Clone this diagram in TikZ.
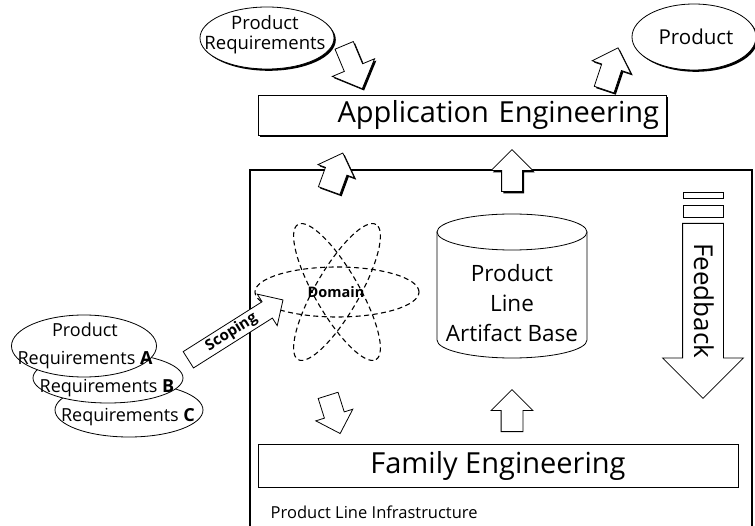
\documentclass[tikz,border=0pt]{standalone}
\usepackage{fontspec}
\setmainfont{Open Sans}
\usetikzlibrary{shapes.geometric,shapes.arrows,shadows}

\begin{document}
\begin{tikzpicture}[x=1pt,y=-1pt,line width=0.8pt,
    box/.style={draw, rectangle, fill=white, inner sep=0pt},
    bubble/.style={draw, ellipse, fill=white, inner sep=0pt},
    orbit/.style={draw, ellipse, line width=1.1pt, dash pattern=on 5pt off 3.5pt,
      minimum width=156pt, minimum height=44pt, inner sep=0pt},
    hollow/.style={draw, single arrow, fill=white, inner xsep=0pt, anchor=tail},
    shade/.style={drop shadow={shadow xshift=1.8pt, shadow yshift=-1.8pt, opacity=1, fill=black}},
  ]
  \useasboundingbox (0,0) rectangle (755,526);

  % infrastructure frame
  \draw[line width=2.6pt] (250,170) rectangle (752,527);
  \node[anchor=west, font=\fontsize{16.5}{18}\selectfont] (infra) at (267,512) {Product Line Infrastructure};

  % engineering boxes
  \node[box, shade, text width=394pt, inner xsep=7pt, minimum height=40pt, align=right,
    font=\fontsize{29}{31}\selectfont] (appeng) at (462,115) {Application Engineering};
  \node[box, minimum width=480pt, minimum height=43pt, font=\fontsize{29}{31}\selectfont]
    (fameng) at (498,465.5) {Family Engineering};

  % top bubbles
  \node[bubble, shade, minimum width=134pt, minimum height=62pt] (reqtop) at (267,38) {};
  \node[align=center, inner sep=0pt, font=\fontsize{18.5}{20}\selectfont] (txttop) at (265,35) {Product\\Requirements};
  \node[bubble, shade, minimum width=124pt, minimum height=66pt] (prod) at (694,37) {};
  \node[font=\fontsize{20.5}{22}\selectfont] (txtprod) at (696,37) {Product};

  % requirement stack
  \node[bubble, minimum width=148pt, minimum height=54pt] (reqC) at (129,410) {};
  \node[font=\fontsize{18}{20}\selectfont] (txtC) at (128,417) {Requirements \textbf{C}};
  \node[bubble, minimum width=150pt, minimum height=50pt] (reqB) at (108,378) {};
  \node[font=\fontsize{18}{20}\selectfont] (txtB) at (107,388) {Requirements \textbf{B}};
  \node[bubble, minimum width=145pt, minimum height=62pt] (reqA) at (84,346) {};
  \node[align=center, inner sep=0pt, font=\fontsize{18}{28}\selectfont] (txtA) at (85,346) {Product\\Requirements \textbf{A}};

  % domain
  \node[orbit, minimum width=164pt, minimum height=50pt] (orbit0) at (337,292) {};
  \node[orbit, rotate=60] (orbit1) at (337,292) {};
  \node[orbit, rotate=-60] (orbit2) at (337,292) {};
  \node[font=\fontsize{14.5}{16}\selectfont\bfseries] (domain) at (336,292) {Domain};

  % artifact base
  \draw[fill=white] (437,232) -- (437,340) arc[start angle=180, end angle=0, x radius=75, y radius=18]
    -- (587,232) -- cycle;
  \draw[fill=white] (512,232) ellipse [x radius=75, y radius=18];
  \node[align=center, font=\fontsize{22.5}{30}\selectfont] (artbase) at (512,303) {Product\\Line\\Artifact Base};

  % hollow arrows
  \node[hollow, shade, inner ysep=9.5pt, single arrow head extend=13pt, minimum height=47pt, rotate=-67.3]
    (toapp) at (344,45) {};
  \node[hollow, shade, inner ysep=10pt, single arrow head extend=10pt, minimum height=44pt, rotate=71.6]
    (toprod) at (604,90) {};
  \node[hollow, shade, inner ysep=11pt, single arrow head extend=8pt, minimum height=40pt, rotate=70]
    (upleft) at (329,191) {};
  \node[hollow, shade, inner ysep=10pt, single arrow head extend=10.5pt, minimum height=42pt, rotate=90]
    (upmid) at (512,192) {};
  \node[hollow, inner ysep=10pt, single arrow head extend=9pt, minimum height=40pt, rotate=-72.5]
    (downfam) at (328,395) {};
  \node[hollow, inner ysep=10.5pt, single arrow head extend=10pt, minimum height=42pt, rotate=90]
    (upfam) at (512,432) {};
  \node[hollow, inner ysep=2.5pt, inner xsep=14pt, single arrow head extend=9pt, minimum height=112pt,
    rotate=32.3, text height=10.5pt, text depth=3pt, font=\fontsize{15}{16}\selectfont\bfseries]
    (scoping) at (188,360) {Scoping};

  % feedback
  \draw (683,192) rectangle (723,198);
  \draw (683,205) rectangle (723,217);
  \node[hollow, inner ysep=11pt, inner xsep=10pt, single arrow head extend=20pt, minimum height=175pt,
    rotate=-90, text height=18pt, text depth=0pt, font=\fontsize{26}{28}\selectfont]
    (feedback) at (703,223) {Feedback};
\end{tikzpicture}
\end{document}
